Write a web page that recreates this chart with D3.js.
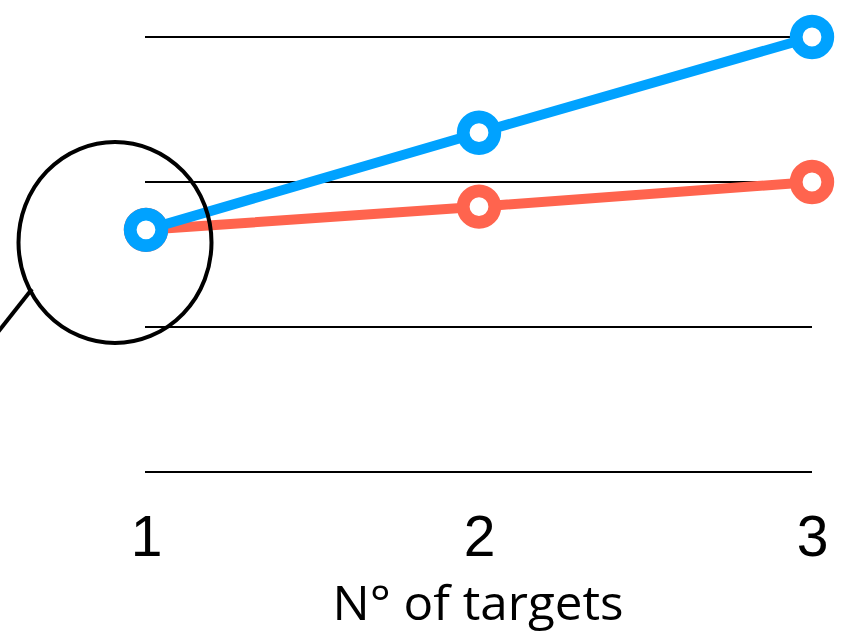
<!DOCTYPE html>
<html>
<head>
<meta charset="utf-8">
<script src="https://cdn.jsdelivr.net/npm/d3@7"></script>
<style>
  html, body { margin: 0; padding: 0; background: #fff; }
  svg { display: block; }
</style>
</head>
<body>
<svg id="chart" width="848" height="637"></svg>
<script>
// Number of targets on the x axis
const targets = [1, 2, 3];
// Two series over the same targets
const blueValues = [1.67, 2.34, 3.0];
const redValues = [1.67, 1.83, 2.0];
// Horizontal reference lines
const gridValues = [0, 1, 2, 3];
const xTickLabels = ["1", "2", "3"];
const xTitle = "N° of targets";

const svg = d3.select("#chart");

const x = d3.scaleLinear().domain([1, 3]).range([146, 812]);
const y = d3.scaleLinear().domain([0, 3]).range([472, 37]);

// Grid lines
svg.append("g")
  .selectAll("line")
  .data(gridValues)
  .join("line")
  .attr("x1", 145)
  .attr("x2", 812)
  .attr("y1", d => y(d))
  .attr("y2", d => y(d))
  .attr("stroke", "#000")
  .attr("stroke-width", 2);

// X axis: labels only, no domain or ticks
const xAxis = d3.axisBottom(x)
  .tickValues(targets)
  .tickFormat((d, i) => xTickLabels[i])
  .tickSize(0)
  .tickPadding(0);

const axisG = svg.append("g")
  .attr("transform", "translate(0,556)")
  .call(xAxis);
axisG.select(".domain").remove();
axisG.selectAll("text")
  .attr("dy", 0)
  .attr("y", 0)
  .attr("font-family", "'Liberation Sans', Arial, sans-serif")
  .attr("font-size", 57)
  .attr("fill", "#000");

// X axis title
svg.append("text")
  .attr("x", 478)
  .attr("y", 620)
  .attr("text-anchor", "middle")
  .attr("font-family", "'Open Sans', Lato, sans-serif")
  .attr("font-size", 48)
  .attr("textLength", 291)
  .attr("lengthAdjust", "spacingAndGlyphs")
  .attr("fill", "#000")
  .text(xTitle);

const line = d3.line()
  .x((d, i) => x(targets[i]))
  .y(d => y(d));

function drawSeries(values, color) {
  const g = svg.append("g");
  g.append("path")
    .datum(values)
    .attr("d", line)
    .attr("fill", "none")
    .attr("stroke", color)
    .attr("stroke-width", 10);
  g.selectAll("circle")
    .data(values)
    .join("circle")
    .attr("cx", (d, i) => x(targets[i]))
    .attr("cy", d => y(d))
    .attr("r", 15.8)
    .attr("fill", "#fff")
    .attr("stroke", color)
    .attr("stroke-width", 12.8);
}

drawSeries(redValues, "#FF644E");
drawSeries(blueValues, "#00A2FF");

// Magnifier annotation around the first target
const lens = svg.append("g")
  .attr("fill", "none")
  .attr("stroke", "#000")
  .attr("stroke-width", 4);
lens.append("ellipse")
  .attr("cx", 115)
  .attr("cy", 242.5)
  .attr("rx", 96.5)
  .attr("ry", 100.5);
lens.append("line")
  .attr("x1", 32)
  .attr("y1", 289)
  .attr("x2", -2)
  .attr("y2", 332);
</script>
</body>
</html>
